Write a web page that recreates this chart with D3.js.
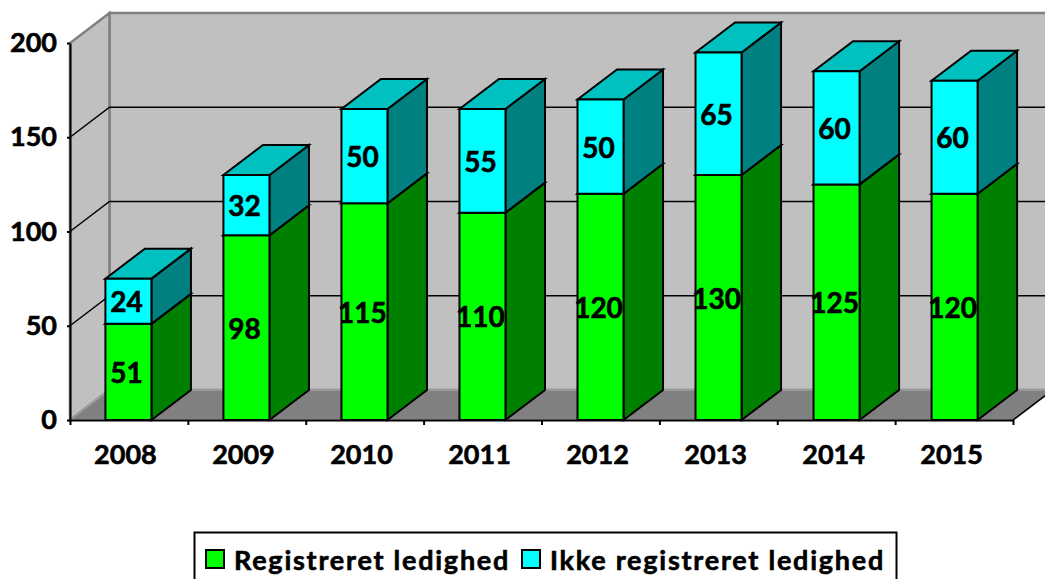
<!DOCTYPE html>
<meta charset="utf-8">
<style>
    body { margin: 0; background: #fff; overflow: hidden; }
    text { font-family: Lato, sans-serif; font-weight: 700; fill: #000; stroke: #000; stroke-width: 0.6px; }
    .axis path, .axis line { stroke: #000; stroke-width: 2; }
</style>
<body>
<script src="https://d3js.org/d3.v7.min.js"></script>
<script>
// values
var years = ["2008", "2009", "2010", "2011", "2012", "2013", "2014", "2015"];
var registreret = [51, 98, 115, 110, 120, 130, 125, 120];
var ikkeRegistreret = [24, 32, 50, 55, 50, 65, 60, 60];
var yTicks = [0, 50, 100, 150, 200];
var legendNames = ["Registreret ledighed", "Ikke registreret ledighed"];

var width = 1045, height = 579;
var left = 70, right = 1013, bottom = 420, top200 = 43;
var dx = 39.5, dy = -30;   // depth of the 3d box

var svg = d3.select("body").append("svg")
    .attr("width", width)
    .attr("height", height);

var x = d3.scaleBand().domain(years).range([left, right])
    .paddingInner(0.61).paddingOuter(0.3);
var xEdges = d3.scaleLinear().domain([0, years.length]).range([left, right]);
var y = d3.scaleLinear().domain([0, 200]).range([bottom, top200]);

function poly(sel, pts, fill, stroke, sw) {
    return sel.append("polygon")
        .attr("points", pts.map(function (p) { return p.join(","); }).join(" "))
        .attr("fill", fill)
        .attr("stroke", stroke)
        .attr("stroke-width", sw)
        .attr("stroke-linejoin", "miter");
}

// walls and floor
var box = svg.append("g");
poly(box, [[left + dx, y(200) + dy], [width + 20, y(200) + dy], [width + 20, y(0) + dy], [left + dx, y(0) + dy]], "#c0c0c0", "#808080", 2.5);
poly(box, [[left, y(0)], [left + dx, y(0) + dy], [left + dx, y(200) + dy], [left, y(200)]], "#c0c0c0", "#808080", 2.5);
poly(box, [[left, y(0)], [right, y(0)], [right + dx, y(0) + dy], [left + dx, y(0) + dy]], "#808080", "#a0a0a0", 1.5);

// grid lines on the walls
yTicks.filter(function (d) { return d > 0 && d < 200; }).forEach(function (d) {
    box.append("path")
        .attr("d", d3.line()([[left, y(d)], [left + dx, y(d) + dy], [width + 20, y(d) + dy]]))
        .attr("fill", "none")
        .attr("stroke", "#000")
        .attr("stroke-width", 1.5);
});
box.append("line")
    .attr("x1", right).attr("y1", y(0))
    .attr("x2", right + dx).attr("y2", y(0) + dy)
    .attr("stroke", "#000").attr("stroke-width", 1.5);

// stacked bars, each one a front, side and top face
function drawSegment(g, name, v0, v1, front, side, topFace) {
    var x0 = x(name), x1 = x0 + x.bandwidth();
    poly(g, [[x1, y(v0)], [x1 + dx, y(v0) + dy], [x1 + dx, y(v1) + dy], [x1, y(v1)]], side, "#000", 2);
    poly(g, [[x0, y(v1)], [x1, y(v1)], [x1 + dx, y(v1) + dy], [x0 + dx, y(v1) + dy]], topFace, "#000", 2);
    poly(g, [[x0, y(v0)], [x1, y(v0)], [x1, y(v1)], [x0, y(v1)]], front, "#000", 2);
}

var bars = svg.append("g");
years.forEach(function (name, i) {
    var g = bars.append("g");
    var a = registreret[i], b = ikkeRegistreret[i];
    drawSegment(g, name, 0, a, "#00ff00", "#008000", "#00c000");
    drawSegment(g, name, a, a + b, "#00ffff", "#008080", "#00c0c0");
});

// value labels
[[registreret, 0], [ikkeRegistreret, 1]].forEach(function (s) {
    s[0].forEach(function (v, i) {
        var base = s[1] ? registreret[i] : 0;
        svg.append("text")
            .attr("x", x(years[i]) + x.bandwidth() / 2 - 2)
            .attr("y", y(base + v / 2) + 1)
            .attr("dy", "0.36em")
            .attr("text-anchor", "middle")
            .attr("font-size", "28px")
            .text(v);
    });
});

// axes
var yAxis = svg.append("g")
    .attr("class", "axis")
    .attr("transform", "translate(" + left + ",0)")
    .call(d3.axisLeft(y).tickValues(yTicks).tickSize(3).tickSizeOuter(0).tickPadding(10));
yAxis.selectAll("text").attr("font-size", "27px").attr("font-family", null);

var xAxis = svg.append("g")
    .attr("class", "axis")
    .attr("transform", "translate(0," + bottom + ")")
    .call(d3.axisBottom(x).tickSize(0).tickPadding(25));
xAxis.select("path").remove();
xAxis.selectAll("text").attr("x", -3).attr("font-size", "27px").attr("font-family", null);

svg.append("g")
    .attr("class", "axis")
    .attr("transform", "translate(0," + bottom + ")")
    .call(d3.axisBottom(xEdges).ticks(years.length).tickSize(5).tickSizeOuter(0).tickFormat(""));

// legend, cut off by the bottom of the picture as in the original
var legend = svg.append("g");
legend.append("rect")
    .attr("x", 194.5).attr("y", 532.5)
    .attr("width", 702).attr("height", 60)
    .attr("fill", "#fff").attr("stroke", "#000").attr("stroke-width", 2);
var legendColors = ["#00ff00", "#00ffff"];
var legendSwatchX = [206, 522];
legendNames.forEach(function (name, i) {
    legend.append("rect")
        .attr("x", legendSwatchX[i]).attr("y", 550)
        .attr("width", 18).attr("height", 18)
        .attr("fill", legendColors[i]).attr("stroke", "#000").attr("stroke-width", 2);
    legend.append("text")
        .attr("x", legendSwatchX[i] + 28).attr("y", 570)
        .attr("font-size", "27px")
        .attr("letter-spacing", "1.75px")
        .text(name);
});
</script>
</body>
